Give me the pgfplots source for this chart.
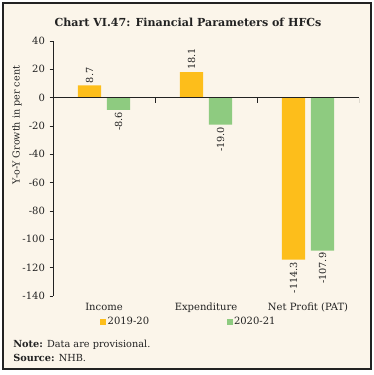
\documentclass[border=0pt]{standalone}
\usepackage{pgfplots}
\pgfplotsset{compat=1.18}
\usepackage{fontspec}
\setmainfont{DejaVu Serif}
\definecolor{cream}{HTML}{FBF5EA}
\definecolor{yel}{HTML}{FDBE1B}
\definecolor{grn}{HTML}{8ECB80}
\definecolor{txt}{HTML}{222222}
\begin{document}
\begin{tikzpicture}[x=0.75pt,y=0.75pt]
\useasboundingbox (0,0) rectangle (374,375);
\draw[line width=1.1pt, draw=txt, fill=cream] (3,6) rectangle (371,372);
\node[font=\bfseries\fontsize{8.3}{10}\selectfont, text=txt] at (188,353) {Chart VI.47: Financial Parameters of HFCs};
\begin{axis}[
  at={(39.75pt,59.25pt)}, anchor=south west,
  scale only axis, width=229.5pt, height=191.25pt,
  xmin=-0.5, xmax=2.5, ymin=-140, ymax=40,
  ytick={-140,-120,...,40},
  xtick={0,1,2}, xticklabels={Income, Expenditure, Net Profit (PAT)},
  axis y line*=left, axis x line*=bottom,
  x axis line style={draw=none},
  y axis line style={draw=txt, line width=0.6pt, -},
  xtick style={draw=none},
  ytick style={draw=txt, line width=0.5pt},
  tick align=outside, major tick length=2.5pt,
  ticklabel style={font=\fontsize{7.5}{8}\selectfont, text=txt},
  xticklabel style={yshift=1pt},
  /pgf/number format/assume math mode=true,
  ybar, bar width=0.23,
  enlarge x limits=false,
  visualization depends on={rawy \as \rawy},
  nodes near coords,
  nodes near coords style={rotate=90, anchor={\ifdim\rawy pt<0pt east\else west\fi}, font=\fontsize{7.3}{8}\selectfont, text=txt, inner sep=1.5pt, /pgf/number format/.cd, fixed, fixed zerofill, precision=1},
  legend columns=2,
  legend style={at={(0.443,-0.102)}, anchor=center, draw=none, fill=none, font=\fontsize{7.5}{8}\selectfont, text=txt, inner xsep=0pt, nodes={inner sep=1pt}, /tikz/every even column/.append style={column sep=57pt}},
  legend image code/.code={\fill[#1] (0pt,-2.2pt) rectangle (4.6pt,2.2pt);},
]
\addplot[fill=yel, draw=none, bar shift=-0.142] coordinates {(0,8.7) (1,18.1) (2,-114.3)};
\addplot[fill=grn, draw=none, bar shift=0.142] coordinates {(0,-8.6) (1,-19.0) (2,-107.9)};
\legend{2019-20, 2020-21}
\draw[txt, line width=0.6pt] (axis cs:-0.5,0) -- (axis cs:2.5,0);
\draw[txt, line width=0.6pt] (axis cs:0.5,0) -- ++(0pt,-4pt);
\draw[txt, line width=0.6pt] (axis cs:1.5,0) -- ++(0pt,-4pt);
\draw[txt, line width=0.6pt] (axis cs:2.5,0) -- ++(0pt,-4pt);
\end{axis}
\node[rotate=90, font=\fontsize{7.2}{8}\selectfont, text=txt] at (17,250) {Y-o-Y Growth in per cent};
\node[anchor=west, font=\fontsize{7.3}{8}\selectfont, text=txt, inner sep=0pt] at (13,30) {\textbf{Note:} Data are provisional.};
\node[anchor=west, font=\fontsize{7.3}{8}\selectfont, text=txt, inner sep=0pt] at (13,17) {\textbf{Source:} NHB.};
\end{tikzpicture}
\end{document}
